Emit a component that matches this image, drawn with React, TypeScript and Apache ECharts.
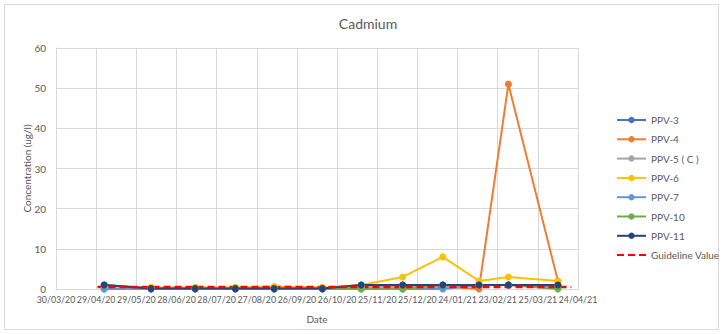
import React, { useEffect, useRef } from "react";
import * as echarts from "echarts";

// Sampling dates (dd/mm/yyyy) and concentrations (ug/l)
const sampleDates = [
  "05/05/2020", "09/06/2020", "12/07/2020", "11/08/2020", "09/09/2020", "15/10/2020",
  "13/11/2020", "14/12/2020", "13/01/2021", "09/02/2021", "03/03/2021", "09/04/2021",
];
const ppv3 = [1, 0.1, 0.1, 0.1, 0.1, 0.1, 1, 1, 1, 1, 1, 1];
const ppv4 = [0.1, 0.1, 0.1, 0.1, 0.1, 0.1, 0.6, 0.6, 0.6, 0, 51, 2];
const ppv5 = [0, 0.1, 0.1, 0.1, 0.1, 0.1, 0.5, 0.5, 0.5, 1, 1, 1];
const ppv6 = [0.4, 0.4, 0.4, 0.4, 0.6, 0.4, 1, 3, 8, 2, 3, 2];
const ppv7 = [0, 0, 0, 0, 0, 0, 0, 0, 0, 1, 1, 0.5];
const ppv10 = [1, 0.1, 0.1, 0.1, 0.1, 0.1, 0, 0, 1, 1, 1, 0];
const ppv11 = [1, 0.1, 0.1, 0.1, 0.1, 0.1, 1, 1, 1, 1, 1, 1];

const guidelineDates = ["30/04/2020", "19/04/2021"];
const guidelineValues = [0.5, 0.5];

const axisStart = "30/03/2020";
const axisDays = 390;
const tickDays = 30;
const yMax = 60;
const yStep = 10;

const seriesNames = ["PPV-3", "PPV-4", "PPV-5 ( C )", "PPV-6", "PPV-7", "PPV-10", "PPV-11"];
const seriesValues = [ppv3, ppv4, ppv5, ppv6, ppv7, ppv10, ppv11];
const seriesColors = ["#4472C4", "#ED7D31", "#A5A5A5", "#FFC000", "#5B9BD5", "#70AD47", "#264478"];
const guidelineName = "Guideline Value";

const parse = (s: string) => {
  const [d, m, y] = s.split("/").map(Number);
  return Date.UTC(y, m - 1, d);
};
const startMs = parse(axisStart);
const toDay = (s: string) => Math.round((parse(s) - startMs) / 86400000);
const pad = (n: number) => (n < 10 ? "0" + n : "" + n);
const fmt = (day: number) => {
  const d = new Date(startMs + day * 86400000);
  return pad(d.getUTCDate()) + "/" + pad(d.getUTCMonth() + 1) + "/" + pad(d.getUTCFullYear() % 100);
};

const FONT = "Lato";
const GREY = "#595959";

export default function App() {
  const ref = useRef<HTMLDivElement>(null);
  useEffect(() => {
    if (!ref.current) return;
    const chart = echarts.init(ref.current, undefined, { renderer: "svg" });
    const series: any[] = seriesNames.map((name, i) => ({
      name,
      type: "line",
      data: sampleDates.map((d, j) => [toDay(d), seriesValues[i][j]]),
      symbol: "circle",
      symbolSize: 7,
      color: seriesColors[i],
      lineStyle: { width: 2, color: seriesColors[i] },
      itemStyle: { color: seriesColors[i] },
    }));
    series.push({
      name: guidelineName,
      type: "line",
      data: guidelineDates.map((d, j) => [toDay(d), guidelineValues[j]]),
      symbol: "none",
      color: "#FF0000",
      lineStyle: { width: 2.5, color: "#FF0000", type: [7, 4] },
    });
    chart.setOption({
      animation: false,
      backgroundColor: "#ffffff",
      textStyle: { fontFamily: FONT },
      title: {
        text: "Cadmium",
        left: 363,
        textAlign: "center",
        top: 11,
        textStyle: { fontFamily: FONT, fontSize: 14, fontWeight: "normal", color: GREY },
      },
      graphic: [
        {
          type: "rect",
          shape: { x: 4.5, y: 4.5, width: 714, height: 325 },
          style: { fill: "none", stroke: "#D9D9D9", lineWidth: 1 },
          silent: true,
          z: -1,
        },
      ],
      legend: {
        orient: "vertical",
        left: 616,
        top: 114,
        padding: 0,
        itemWidth: 29,
        itemHeight: 8,
        itemGap: 7.3,
        textStyle: { fontFamily: FONT, fontSize: 10, color: GREY, lineHeight: 12 },
        data: [
          ...seriesNames,
          { name: guidelineName, itemStyle: { opacity: 0 } },
        ],
      },
      grid: { left: 56, right: 145, top: 48, bottom: 45, containLabel: false },
      xAxis: {
        type: "value",
        min: 0,
        max: axisDays,
        interval: tickDays,
        name: "Date",
        nameLocation: "middle",
        nameGap: 25,
        nameMoveOverlap: false,
        nameTextStyle: { fontFamily: FONT, fontSize: 10, color: GREY },
        axisLine: { show: true, lineStyle: { color: "#D9D9D9" } },
        axisTick: { show: false },
        splitLine: { show: true, lineStyle: { color: "#D9D9D9" } },
        axisLabel: {
          formatter: (v: number) => fmt(v),
          fontFamily: FONT,
          fontSize: 8.8,
          color: GREY,
          margin: 6,
          hideOverlap: false,
          showMinLabel: true,
          showMaxLabel: true,
        },
      },
      yAxis: {
        type: "value",
        min: 0,
        max: yMax,
        interval: yStep,
        name: "Concentration (ug/l)",
        nameLocation: "middle",
        nameGap: 24,
        nameMoveOverlap: false,
        nameTextStyle: { fontFamily: FONT, fontSize: 10, color: GREY },
        axisLine: { show: true, lineStyle: { color: "#D9D9D9" } },
        axisTick: { show: false },
        splitLine: { show: true, lineStyle: { color: "#D9D9D9" } },
        axisLabel: { fontFamily: FONT, fontSize: 10, color: GREY, margin: 10 },
      },
      series,
    });
    return () => chart.dispose();
  }, []);
  return (
    <div
      ref={ref}
      style={{ position: "fixed", left: 0, top: 0, width: 723, height: 334, background: "#fff" }}
    />
  );
}
